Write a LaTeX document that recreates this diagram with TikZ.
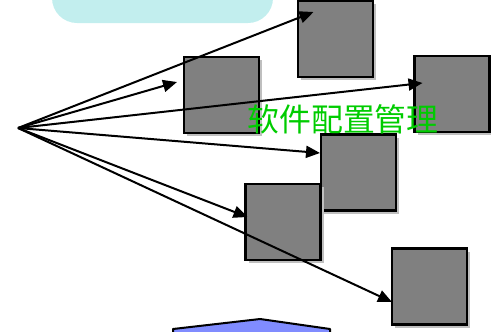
\documentclass[tikz,border=0pt]{standalone}
\usepackage{fontspec}
\newfontfamily\cjkfont{Noto Sans CJK SC}
\usetikzlibrary{arrows.meta,shadows}
\definecolor{boxgray}{RGB}{128,128,128}
\definecolor{capteal}{RGB}{194,238,238}
\definecolor{titlegreen}{RGB}{0,204,0}
\definecolor{starblue}{RGB}{128,140,255}
\tikzset{
  box/.style={draw, line width=2.2bp, fill=boxgray, minimum width=75bp,
    minimum height=76bp, inner sep=0pt, outer sep=0pt,
    drop shadow={shadow xshift=3bp, shadow yshift=-3bp, fill=black!25, opacity=1}},
  link/.style={line width=2bp, -{Triangle[length=14bp,width=12bp]}}
}
\begin{document}
\begin{tikzpicture}[x=1bp, y=-1bp]
  \useasboundingbox (0, 0) rectangle (491, 331);
  % cut-off caption at the top
  \fill[capteal, rounded corners=25bp] (52, -40) rectangle (273, 23);
  % the boxes
  \node[box] (b1) at (221.5, 95) {};
  \node[box] (b2) at (335.5, 39) {};
  \node[box] (b3) at (452, 94) {};
  \node[box] (b4) at (358.5, 172.5) {};
  \node[box] (b5) at (283, 222) {};
  \node[box] (b6) at (429.5, 286.5) {};
  \coordinate (src) at (18, 128);
  \foreach \b/\dx/\dy in {b2/15.5/27, b1/-7/13, b3/8/11, b4/-1/19.5, b5/2/5, b6/0/-15.5}
    \draw[link] (src) -- ([xshift=\dx bp, yshift=\dy bp]\b.west);
  \node[text=titlegreen, font=\cjkfont\fontsize{32}{36}\selectfont, inner sep=0pt] (title) at (343, 119) {软件配置管理};
  % star at the bottom edge
  \draw[line width=2bp, fill=starblue, line join=round] (173, 329) -- (260, 319) -- (330, 329)
    -- (330, 340) -- (173, 340) -- cycle;
\end{tikzpicture}
\end{document}
